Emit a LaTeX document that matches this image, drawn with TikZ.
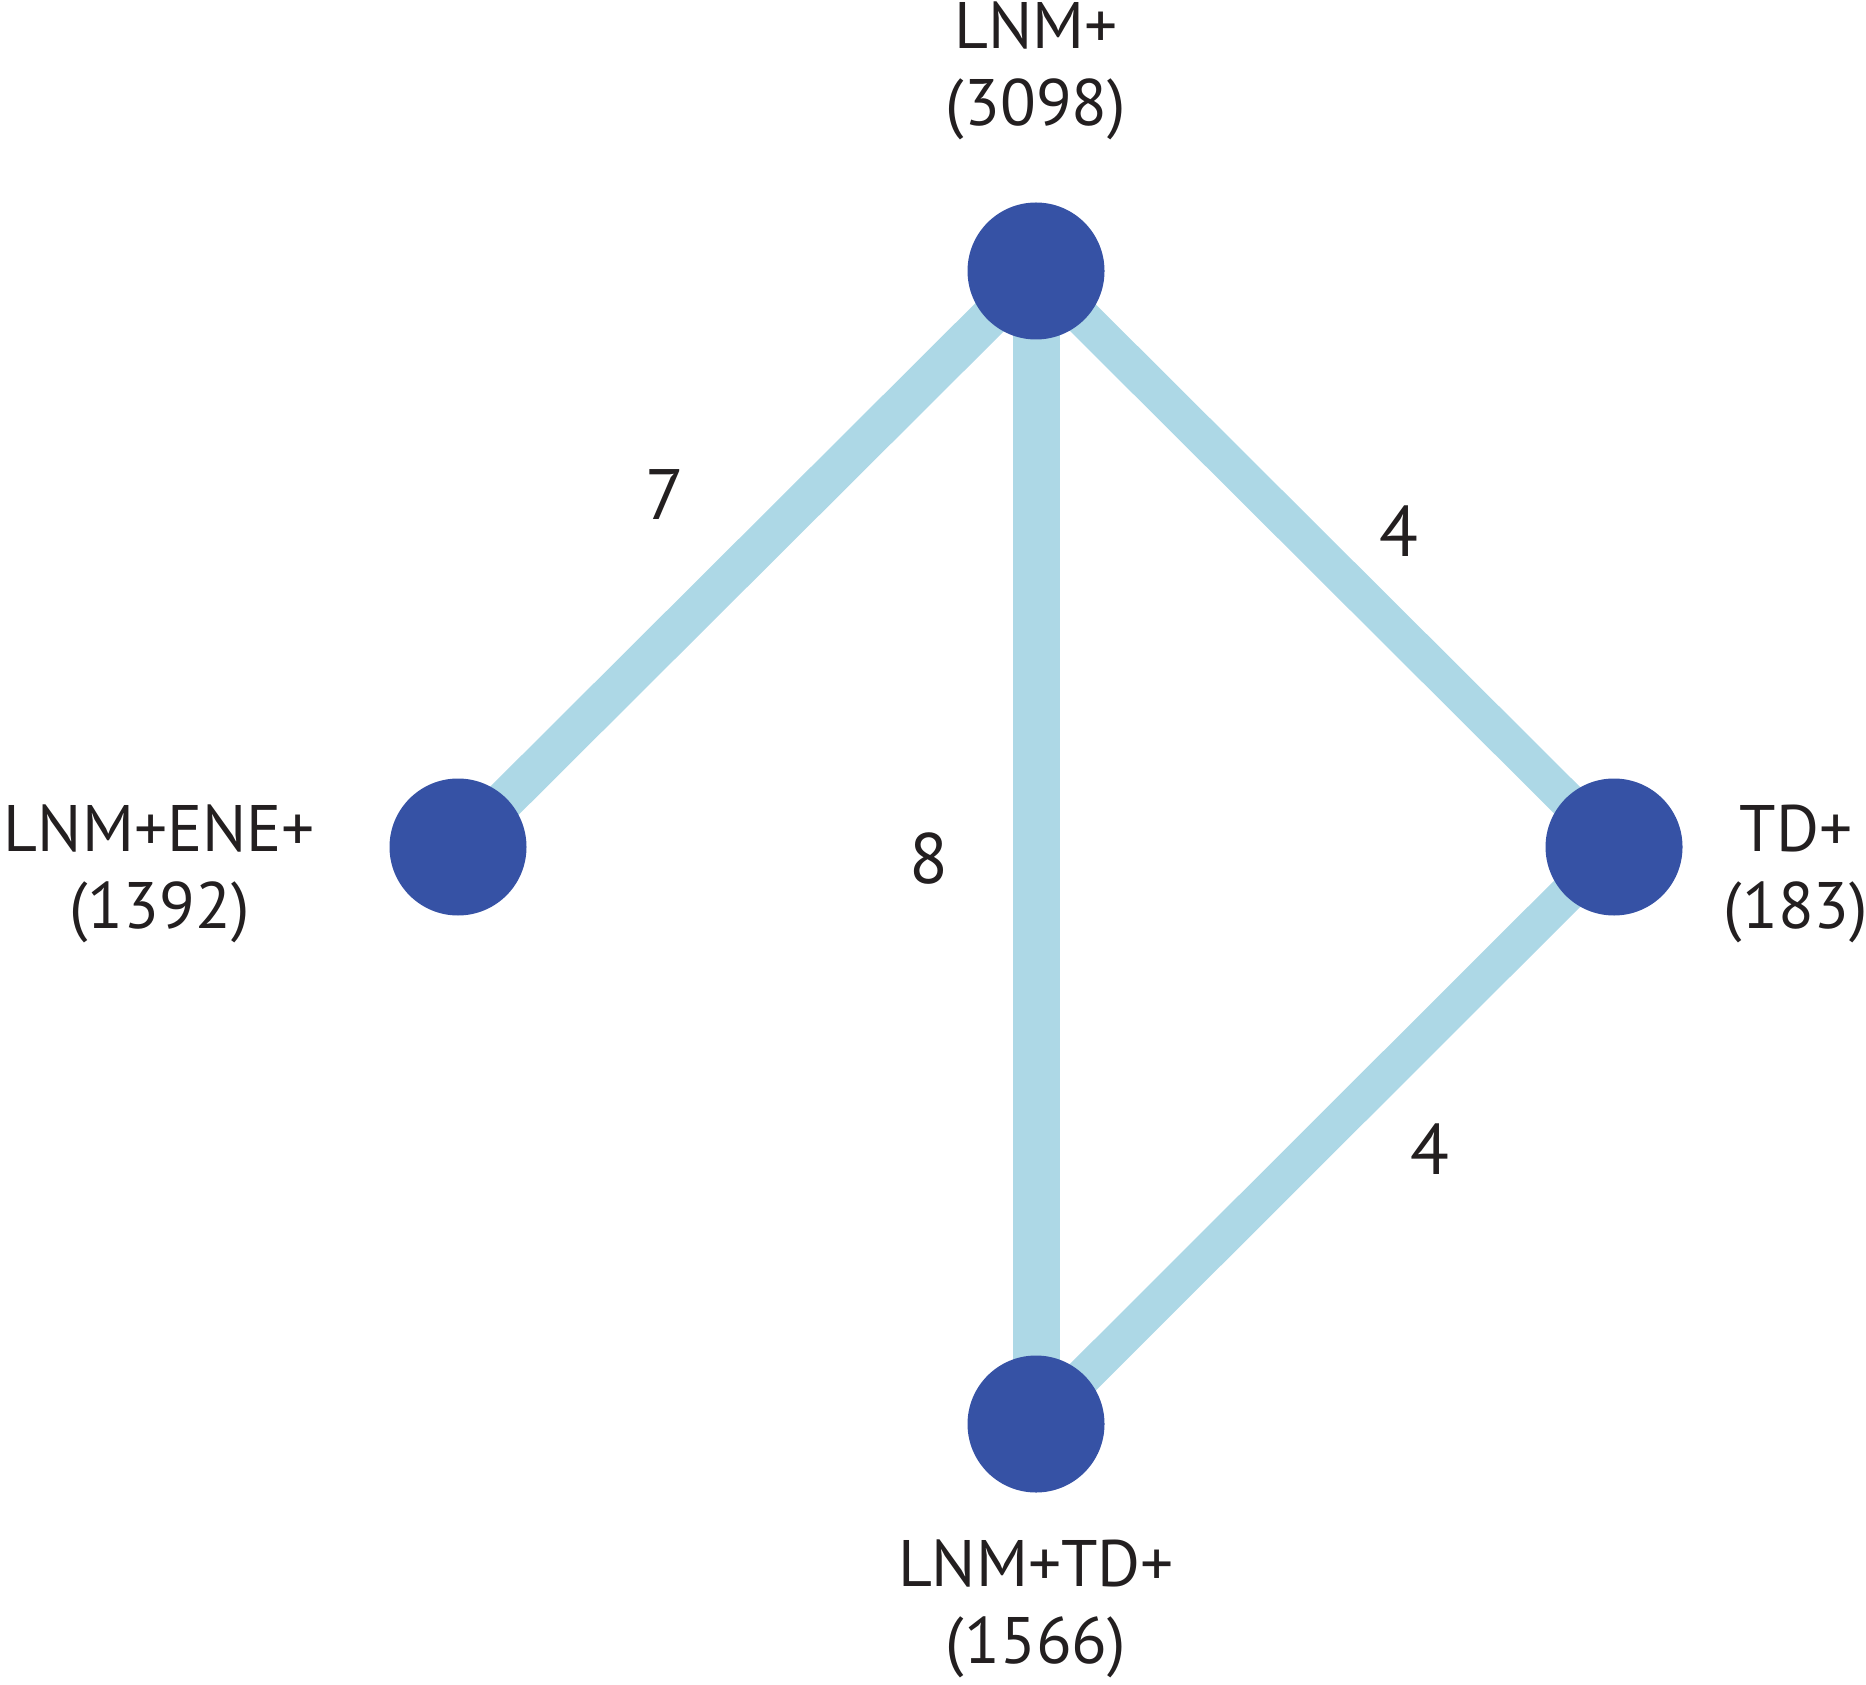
\documentclass[tikz,border=0pt]{standalone}
\usepackage{fontspec}
\setmainfont{PT Sans}
\usetikzlibrary{positioning, backgrounds}
\definecolor{nodeblue}{HTML}{3652A5}
\definecolor{edgeblue}{HTML}{ADD8E6}
\definecolor{inkblack}{HTML}{231F20}

\begin{document}
\begin{tikzpicture}[
  treat/.style={circle, fill=nodeblue, inner sep=0pt, minimum size=1.37cm},
  tname/.style={align=center, inner sep=0pt, text=inkblack, font=\fontsize{18.7}{21.9}\selectfont},
  link/.style={draw=edgeblue, line width=#1},
  nstudy/.style={text=inkblack, inner sep=0pt, font=\fontsize{20.3}{24}\selectfont}
]
  \useasboundingbox (0,0) rectangle (18.66,-16.84);

  % treatments
  \node[treat] (lnm) at (10.36,-2.71) {};
  \node[treat] (ene) at (4.58,-8.47) {};
  \node[treat] (td) at (16.14,-8.47) {};
  \node[treat] (lnmtd) at (10.36,-14.24) {};

  \node[tname, above=0.61cm of lnm] (lnmLbl) {LNM+\\(3098)};
  \node[tname, left=0.73cm of ene, yshift=-0.27cm] (eneLbl) {LNM+ENE+\\(1392)};
  \node[tname, right=0.40cm of td, yshift=-0.27cm] (tdLbl) {TD+\\(183)};
  \node[tname, below=0.46cm of lnmtd] (lnmtdLbl) {LNM+TD+\\(1566)};

  % comparisons, number of studies
  \begin{scope}[on background layer]
    \draw[link=0.40cm] (lnm.center) -- node[nstudy, midway, xshift=-0.82cm, yshift=0.64cm] {7} (ene.center);
    \draw[link=0.37cm] (lnm.center) -- node[nstudy, midway, xshift=0.74cm, yshift=0.28cm] {4} (td.center);
    \draw[link=0.47cm] (lnm.center) -- node[nstudy, midway, xshift=-1.07cm, yshift=-0.11cm] {8} (lnmtd.center);
    \draw[link=0.37cm] (td.center) -- node[nstudy, midway, xshift=1.05cm, yshift=-0.14cm] {4} (lnmtd.center);
  \end{scope}
\end{tikzpicture}
\end{document}
